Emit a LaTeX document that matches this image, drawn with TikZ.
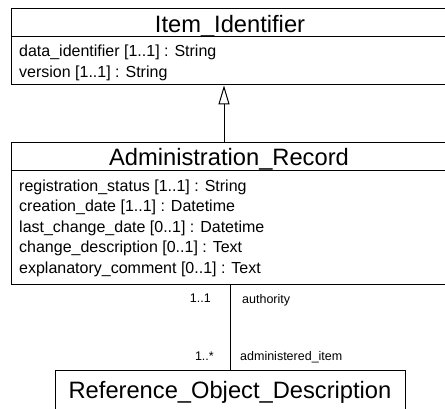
\documentclass[tikz,border=0pt]{standalone}
\usepackage{fontspec}
\setmainfont{Liberation Sans}
\usetikzlibrary{arrows.meta}

\begin{document}
\begin{tikzpicture}[x=1pt,y=-1pt,
  classbox/.style={draw=black, line width=1.4pt, fill=white, rectangle,
    inner sep=0pt, anchor=north west},
  sepline/.style={draw=black, line width=1.2pt},
  classtitle/.style={anchor=base, inner sep=0pt, font=\fontsize{23.7}{26}\selectfont},
  attr/.style={anchor=base west, inner sep=0pt, font=\fontsize{16}{18}\selectfont},
  rolelabel/.style={inner sep=0pt, font=\fontsize{12.5}{14}\selectfont},
  conn/.style={draw=black, line width=1pt},
  inherit/.style={conn, -{Triangle[open, length=19pt, width=11pt, line width=1pt]}}
]
\clip (0,0) rectangle (445,408);
\fill[white] (0,0) rectangle (445,408);

% Item_Identifier class
\node[classbox, minimum width=470pt, minimum height=76pt] (idbox) at (11,8) {};
\draw[sepline] (11,36.7) -- (481,36.7);
\node[classtitle] (idtitle) at (230,32) {Item\_Identifier};
\node[attr] (idattr1) at (19,56) {data\_identifier [1..1] : String};
\node[attr] (idattr2) at (19,77) {version [1..1] : String};

% Administration_Record class
\node[classbox, minimum width=470pt, minimum height=142pt] (adminbox) at (11,142) {};
\draw[sepline] (11,170.5) -- (481,170.5);
\node[classtitle] (admintitle) at (229,165) {Administration\_Record};
\node[attr] (adminattr1) at (19,191) {registration\_status [1..1] : String};
\node[attr] (adminattr2) at (19,211.7) {creation\_date [1..1] : Datetime};
\node[attr] (adminattr3) at (19,232) {last\_change\_date [0..1] : Datetime};
\node[attr] (adminattr4) at (19,252.7) {change\_description [0..1] : Text};
\node[attr] (adminattr5) at (19,273) {explanatory\_comment [0..1] : Text};

% Reference_Object_Description class
\node[classbox, minimum width=350pt, minimum height=60pt] (refbox) at (55,370) {};
\node[classtitle] (reftitle) at (230,398) {Reference\_Object\_Description};

% generalization
\coordinate (genx) at (224,0);
\draw[inherit] (adminbox.north -| genx) -- (idbox.south -| genx);

% association
\draw[conn] (refbox.north) -- (adminbox.south -| refbox.north);
\node[rolelabel, anchor=base east] (multa) at (211,302) {1..1};
\node[rolelabel, anchor=base west] (rolea) at (242,303) {authority};
\node[rolelabel, anchor=base east] (multb) at (214,360) {1..*};
\node[rolelabel, anchor=base west] (roleb) at (240,360) {administered\_item};
\end{tikzpicture}
\end{document}
